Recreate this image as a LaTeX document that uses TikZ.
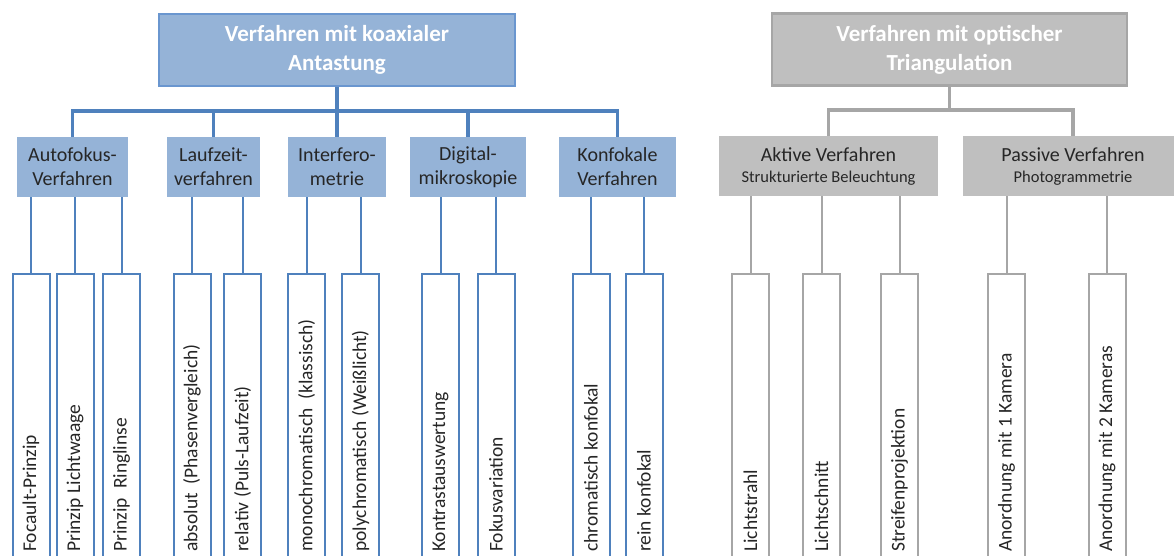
\documentclass[tikz,border=0pt]{standalone}
\usepackage{fontspec}
\setmainfont{Carlito}
\definecolor{bfill}{HTML}{95B3D7}
\definecolor{bline}{HTML}{4F81BD}
\definecolor{btopline}{HTML}{6A96CF}
\definecolor{gfill}{HTML}{BFBFBF}
\definecolor{gline}{HTML}{A6A6A6}
\definecolor{txt}{HTML}{262626}
\newcommand\mysubfont{\fontsize{16.5}{20}\selectfont}
\begin{document}
\begin{tikzpicture}[x=1pt,y=-1pt,
  topbox/.style={draw, line width=2.2pt, minimum height=72pt, inner sep=0pt, align=center,
    font=\fontsize{23}{29}\selectfont\bfseries, text=white},
  midbox/.style={minimum height=60pt, inner sep=0pt, align=center,
    font=\fontsize{20}{24}\selectfont, text=txt},
  leaf/.style={draw, line width=2pt, fill=white, minimum width=37pt, minimum height=300pt,
    inner sep=0pt, anchor=north},
  leaftext/.style={rotate=90, anchor=west, inner sep=0pt,
    font=\fontsize{19.5}{20}\selectfont, text=txt},
  bus/.style={line width=3.2pt},
  conn/.style={line width=2pt}]
\useasboundingbox (0,0) rectangle (1174,556);
\clip (0,0) rectangle (1174,556);
\coordinate (kbus) at (0,111);
\coordinate (gbus) at (0,110);
\coordinate (base) at (0,552);
% top boxes
\node[topbox, fill=bfill, draw=btopline, minimum width=356pt] (koax) at (337,50)
  {Verfahren mit koaxialer\\Antastung};
\node[topbox, fill=gfill, draw=gline, minimum width=355pt] (opt) at (949.5,49.5)
  {Verfahren mit optischer\\Triangulation};
% mid boxes blue
\node[midbox, fill=bfill, minimum width=111pt] (auto) at (72.5,167) {Autofokus-\\Verfahren};
\node[midbox, fill=bfill, minimum width=93pt] (lauf) at (213.5,167) {Laufzeit-\\verfahren};
\node[midbox, fill=bfill, minimum width=98pt] (inter) at (337,167) {Interfero-\\metrie};
\node[midbox, fill=bfill, minimum width=116pt] (digi) at (468,167) {Digital-\\mikroskopie};
\node[midbox, fill=bfill, minimum width=117pt] (konf) at (617.5,167) {Konfokale\\Verfahren};
% mid boxes gray
\node[midbox, fill=gfill, minimum width=219pt] (aktiv) at (828.5,166)
  {Aktive Verfahren\\[-3pt]{\mysubfont Strukturierte Beleuchtung}};
\node[midbox, fill=gfill, minimum width=220pt] (passiv) at (1073,166)
  {Passive Verfahren\\[-3pt]{\mysubfont Photogrammetrie}};
% upper connectors
\draw[bus, bline] (koax.south) -- (inter.north);
\draw[bus, bline] (auto.north) |- (konf.north |- kbus) -- (konf.north);
\draw[bus, bline] (lauf.north) -- (lauf.north |- kbus);
\draw[bus, bline] (digi.north) -- (digi.north |- kbus);
\draw[bus, gline] (opt.south) -- (opt.south |- gbus);
\draw[bus, gline] (aktiv.north) |- (passiv.north |- gbus) -- (passiv.north);
% leaves blue
\node[leaf, draw=bline] (l1) at (31,273) {};
\node[leaf, draw=bline] (l2) at (75,273) {};
\node[leaf, draw=bline] (l3) at (121.5,273) {};
\node[leaf, draw=bline] (l4) at (192,273) {};
\node[leaf, draw=bline] (l5) at (242.5,273) {};
\node[leaf, draw=bline] (l6) at (306.5,273) {};
\node[leaf, draw=bline] (l7) at (360.5,273) {};
\node[leaf, draw=bline] (l8) at (440.5,273) {};
\node[leaf, draw=bline] (l9) at (496,273) {};
\node[leaf, draw=bline] (l10) at (591,273) {};
\node[leaf, draw=bline] (l11) at (644,273) {};
% leaves gray
\node[leaf, draw=gline] (l12) at (750.5,273) {};
\node[leaf, draw=gline] (l13) at (821.5,273) {};
\node[leaf, draw=gline] (l14) at (899.5,273) {};
\node[leaf, draw=gline] (l15) at (1006.5,273) {};
\node[leaf, draw=gline] (l16) at (1107,273) {};
% lower connectors
\foreach \l in {l1,l2,l3} \draw[conn, bline] (auto.south -| \l.north) -- (\l.north);
\foreach \l in {l4,l5} \draw[conn, bline] (lauf.south -| \l.north) -- (\l.north);
\foreach \l in {l6,l7} \draw[conn, bline] (inter.south -| \l.north) -- (\l.north);
\foreach \l in {l8,l9} \draw[conn, bline] (digi.south -| \l.north) -- (\l.north);
\foreach \l in {l10,l11} \draw[conn, bline] (konf.south -| \l.north) -- (\l.north);
\foreach \l in {l12,l13,l14} \draw[conn, gline] (aktiv.south -| \l.north) -- (\l.north);
\foreach \l in {l15,l16} \draw[conn, gline] (passiv.south -| \l.north) -- (\l.north);
% leaf texts
\node[leaftext] (t1) at (l1.north |- base) {Focault-Prinzip};
\node[leaftext] (t2) at (l2.north |- base) {Prinzip Lichtwaage};
\node[leaftext] (t3) at (l3.north |- base) {Prinzip\ \ Ringlinse};
\node[leaftext] (t4) at (l4.north |- base) {absolut\ \ (Phasenvergleich)};
\node[leaftext] (t5) at (l5.north |- base) {relativ (Puls-Laufzeit)};
\node[leaftext] (t6) at (l6.north |- base) {monochromatisch\ \ (klassisch)};
\node[leaftext] (t7) at (l7.north |- base) {polychromatisch (Weißlicht)};
\node[leaftext] (t8) at (l8.north |- base) {Kontrastauswertung};
\node[leaftext] (t9) at (l9.north |- base) {Fokusvariation};
\node[leaftext] (t10) at (l10.north |- base) {chromatisch konfokal};
\node[leaftext] (t11) at (l11.north |- base) {rein konfokal};
\node[leaftext] (t12) at (l12.north |- base) {Lichtstrahl};
\node[leaftext] (t13) at (l13.north |- base) {Lichtschnitt};
\node[leaftext] (t14) at (l14.north |- base) {Streifenprojektion};
\node[leaftext] (t15) at (l15.north |- base) {Anordnung mit 1 Kamera};
\node[leaftext] (t16) at (l16.north |- base) {Anordnung mit 2 Kameras};
\end{tikzpicture}
\end{document}
